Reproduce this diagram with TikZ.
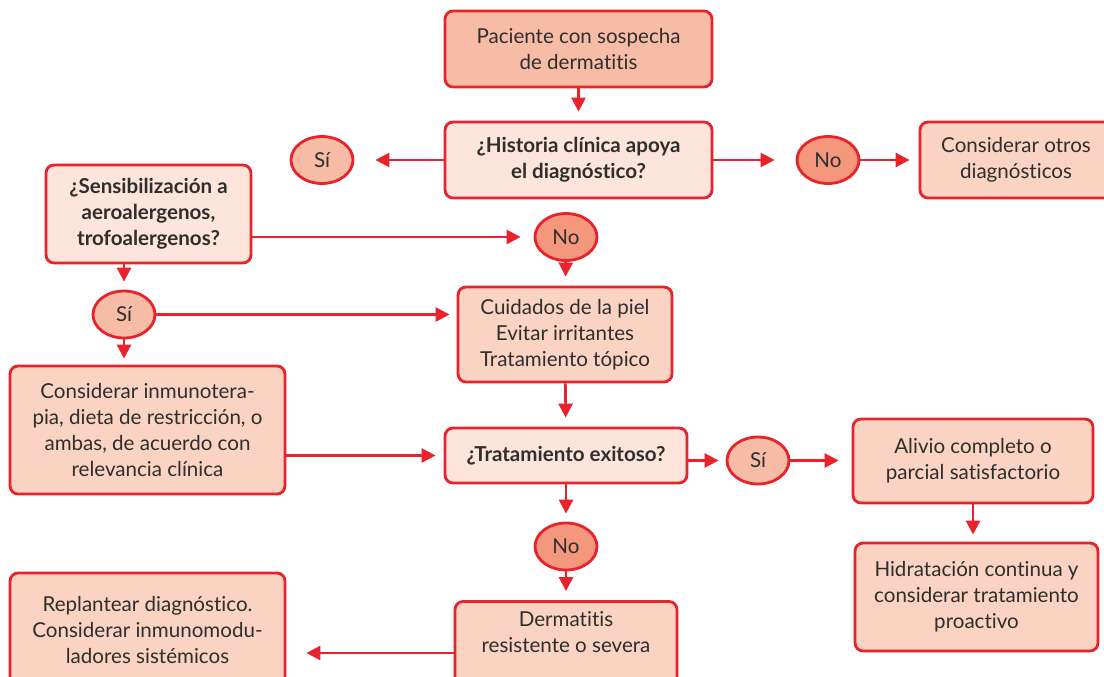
\documentclass[tikz,border=0pt]{standalone}
\usepackage{fontspec}
\setmainfont{Lato}[Ligatures={NoCommon,NoRequired,NoContextual}]
\usetikzlibrary{shapes.geometric,arrows.meta}
\definecolor{rojo}{HTML}{E8232B}
\definecolor{salmon}{HTML}{F7BCA5}
\definecolor{rosa}{HTML}{FAD3C2}
\definecolor{palido}{HTML}{FDE5DB}
\definecolor{coral}{HTML}{F4977C}
\definecolor{texto}{HTML}{2E2E2E}
\tikzstyle{caja} = [rectangle,
                    rounded corners=0.16cm,
                    align=center,
                    draw=rojo,
                    fill=rosa,
                    text=texto,
                    line width=1.6pt,
                    font=\fontsize{11.7}{14.7}\selectfont]
\tikzstyle{pregunta} = [caja,
                       fill=palido,
                       font=\fontsize{11.7}{14.7}\selectfont\bfseries]
\tikzstyle{si} = [ellipse,
                  draw=rojo,
                  fill=salmon,
                  text=texto,
                  line width=1.6pt,
                  minimum width=1.24cm,
                  minimum height=0.94cm,
                  inner sep=0pt,
                  font=\fontsize{11.7}{14.7}\selectfont]
\tikzstyle{no} = [si, fill=coral]
\tikzstyle{flujo} = [x=0.02cm,
                     y=-0.02cm,
                     >={Triangle[length=8pt,width=8pt]},
                     line width=1.5pt,
                     shorten >=0.18cm]

\begin{document}
\begin{tikzpicture}[flujo]
    \useasboundingbox (0,0) rectangle (1104,676);
    \clip (0,0) rectangle (1104,676);
    \node (inicio) at (578.5,49) [caja, fill=salmon, minimum width=5.34cm, minimum height=1.52cm] {Paciente con sospecha\\de dermatitis};
    \node (historia) at (578.5,160) [pregunta, minimum width=5.34cm, minimum height=1.52cm] {¿Historia clínica apoya\\el diagnóstico?};
    \node (si1) at (322,160) [si] {Sí};
    \node (no1) at (828,160) [no] {No};
    \node (otros) at (1016,160) [caja, minimum width=3.84cm, minimum height=1.52cm] {Considerar otros\\diagnósticos};
    \node (sensib) at (148.5,214) [pregunta, minimum width=4.1cm, minimum height=1.96cm] {¿Sensibilización a\\aeroalergenos,\\trofoalergenos?};
    \node (no2) at (566,237) [no] {No};
    \node (si2) at (124,314.5) [si] {Sí};
    \node (cuidados) at (565,334.5) [caja, minimum width=4.28cm, minimum height=1.9cm] {Cuidados de la piel\\Evitar irritantes\\Tratamiento tópico};
    \node (inmuno) at (147.5,430) [caja, minimum width=5.5cm, minimum height=2.56cm] {Considerar inmunotera-\\pia, dieta de restricción, o\\ambas, de acuerdo con\\relevancia clínica};
    \node (exito) at (566,455.5) [pregunta, minimum width=4.84cm, minimum height=1.1cm] {¿Tratamiento exitoso?};
    \node (si3) at (758,460.5) [si] {Sí};
    \node (alivio) at (973,461) [caja, minimum width=4.8cm, minimum height=1.68cm] {Alivio completo o\\parcial satisfactorio};
    \node (hidrata) at (976.5,597) [caja, minimum width=4.86cm, minimum height=2.16cm] {Hidratación continua y\\considerar tratamiento\\proactivo};
    \node (no3) at (566,546.5) [no] {No};
    \node (resistente) at (566,649) [caja, minimum width=4.44cm, minimum height=1.9cm] {Dermatitis\\resistente o severa\\\strut};
    \node (replantear) at (147.5,630) [caja, minimum width=5.5cm, minimum height=2.28cm] {Replantear diagnóstico.\\Considerar inmunomodu-\\ladores sistémicos};
    \coordinate (fila) at (0,653);
    \path[->, rojo]
      (inicio) edge (historia)
      (historia) edge [shorten >=0.42cm] (si1)
      (historia) edge [shorten >=0.42cm] (no1)
      (no1) edge (otros)
      (sensib.east |- no2.west) edge [shorten >=0.26cm] (no2.west)
      (sensib.south -| si2) edge [shorten >=0.16cm] (si2)
      (no2) edge (cuidados)
      (si2) edge [shorten >=0.14cm] (cuidados.west |- si2.east)
      (si2) edge [shorten >=0.12cm] (si2 |- inmuno.north)
      (cuidados) edge (exito)
      (inmuno.east |- exito.west) edge [shorten >=0.16cm] (exito.west)
      (exito.east |- si3.west) edge [shorten >=0.14cm] (si3.west)
      (si3) edge [shorten >=0.26cm] (alivio.west |- si3.east)
      (alivio) edge [shorten >=0.14cm] (alivio |- hidrata.north)
      (exito) edge [shorten >=0.16cm] (no3)
      (no3) edge (resistente)
      (resistente.west |- fila) edge [shorten >=0.4cm] (replantear.east |- fila);
  \end{tikzpicture}
\end{document}
